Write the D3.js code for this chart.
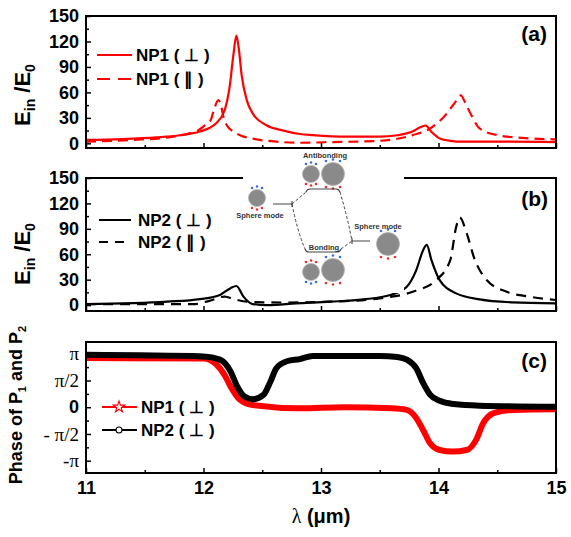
<!DOCTYPE html>
<html>
<head>
<meta charset="utf-8">
<script src="https://cdn.jsdelivr.net/npm/d3@7"></script>
<style>
  html, body { margin: 0; padding: 0; background: #fff; }
  svg { display: block; }
</style>
</head>
<body>
<svg id="chart" width="571" height="537"></svg>
<script>
// ---------------- DATA ----------------
// Panel (a): field enhancement of NP1, [lambda (um), Ein/E0]
const np1Perp = [[11.0,4],[11.3,5],[11.6,7],[11.8,9.5],[11.97,14],[12.05,18],[12.11,24],[12.18,39],[12.226,70],[12.255,105],[12.28,127],[12.30,112],[12.325,80],[12.37,50],[12.42,35],[12.54,21],[12.68,15],[12.82,11],[12.93,9.7],[13.22,7.8],[13.5,7.8],[13.65,9.5],[13.73,11.7],[13.8,15.5],[13.84,18.7],[13.89,21],[13.94,13.5],[14.01,5.8],[14.1,3],[14.21,2],[14.5,2],[15.0,1.5]];
const np1Par = [[11.0,2],[11.4,4],[11.7,7],[11.86,11],[11.95,15],[12.02,22],[12.06,27],[12.09,40],[12.126,51],[12.15,44],[12.17,31],[12.2,21],[12.25,14],[12.32,9],[12.4,6],[12.62,2],[12.82,0.7],[13.1,1.5],[13.5,3],[13.78,9.7],[13.93,17.5],[14.07,35],[14.14,48],[14.19,56.5],[14.23,47],[14.28,33],[14.35,17.5],[14.5,9.7],[14.78,5.8],[15.0,4.7]];
// Panel (b): field enhancement of NP2
const np2Perp = [[11.0,1],[11.69,4],[11.97,7],[12.14,12],[12.23,20],[12.28,22.5],[12.34,10],[12.42,1.2],[12.54,0],[12.79,2],[13.08,4],[13.36,6.7],[13.59,11.8],[13.73,21.6],[13.81,41],[13.87,65],[13.9,71],[13.94,53],[14.01,29.5],[14.15,13.8],[14.35,6.7],[14.63,3.2],[15.0,2]];
const np2Par = [[11.0,1],[11.5,1],[11.91,1],[12.05,5],[12.18,10],[12.26,7],[12.37,4],[12.68,3],[13.08,4],[13.5,8],[13.78,15.7],[13.98,29.5],[14.1,53],[14.15,92],[14.18,103.5],[14.24,85],[14.3,57],[14.41,29.5],[14.58,15.7],[14.78,9.8],[14.95,6.7],[15.0,6]];
// Panel (c): phase (in units of pi)
const np1Phase = [[11.0,0.92],[12.0,0.91],[12.11,0.8],[12.18,0.6],[12.23,0.39],[12.31,0.14],[12.42,0.04],[12.82,-0.02],[13.2,0.0],[13.6,-0.02],[13.73,-0.05],[13.81,-0.2],[13.87,-0.43],[13.93,-0.68],[14.01,-0.8],[14.12,-0.83],[14.24,-0.8],[14.32,-0.61],[14.38,-0.3],[14.47,-0.11],[14.64,-0.05],[15.0,-0.04]];
const np2Phase = [[11.0,0.98],[12.0,0.95],[12.14,0.89],[12.23,0.67],[12.28,0.42],[12.35,0.2],[12.42,0.15],[12.51,0.23],[12.57,0.48],[12.62,0.73],[12.71,0.86],[12.82,0.9],[12.93,0.96],[13.5,0.96],[13.65,0.94],[13.73,0.89],[13.81,0.73],[13.87,0.45],[13.93,0.23],[14.01,0.12],[14.13,0.06],[14.35,0.03],[15.0,0.01]];

// Tick values / labels
const xMajor = [11,12,13,14,15];
const xMinor = [11.5,12.5,13.5,14.5];
const eMajor = [0,30,60,90,120,150];
const eMinor = [15,45,75,105,135];
const phMajor = [-1,-0.5,0,0.5,1];
const phMinor = [-0.75,-0.25,0.25,0.75];
const phLabels = {"-1":"-π","-0.5":"- π/2","0":"0","0.5":"π/2","1":"π"};
const legendA = ["NP1 ( ⊥ )","NP1 ( ∥ )"];
const legendB = ["NP2 ( ⊥ )","NP2 ( ∥ )"];
const legendC = ["NP1 ( ⊥ )","NP2 ( ⊥ )"];

// ---------------- LAYOUT ----------------
const SANS = "Arial, 'Liberation Sans', Helvetica, sans-serif";
const SERIF = "'Times New Roman', 'Liberation Serif', serif";
const svg = d3.select("#chart");
const left = 86, right = 556;
const x = d3.scaleLinear().domain([11,15]).range([left,right]);
const panels = [
  {id:"a", top:16, bottom:148, y:d3.scaleLinear().domain([-5.5,150]).range([148,16])},
  {id:"b", top:178, bottom:311, y:d3.scaleLinear().domain([-7,150]).range([311,178])},
  {id:"c", top:342, bottom:473, y:d3.scaleLinear().domain([-1.23,1.22]).range([473,342])}
];

const defs = svg.append("defs");
panels.forEach(p => {
  defs.append("clipPath").attr("id","clip-"+p.id)
    .append("rect").attr("x",left).attr("y",p.top).attr("width",right-left).attr("height",p.bottom-p.top);
});

function drawAxes(p, showXLabels, yTicksMajor, yTicksMinor, yFmt) {
  const g = svg.append("g");
  const xa = g.append("g").attr("transform",`translate(0,${p.bottom})`)
    .call(d3.axisBottom(x).tickValues(xMajor).tickSizeInner(-5).tickSizeOuter(0).tickPadding(8)
      .tickFormat(showXLabels ? d3.format("d") : () => ""));
  const xm = g.append("g").attr("transform",`translate(0,${p.bottom})`)
    .call(d3.axisBottom(x).tickValues(xMinor).tickSizeInner(-3).tickSizeOuter(0).tickFormat(() => ""));
  const ya = g.append("g").attr("transform",`translate(${left},0)`)
    .call(d3.axisLeft(p.y).tickValues(yTicksMajor).tickSizeInner(-5).tickSizeOuter(0).tickPadding(7).tickFormat(yFmt));
  const ym = g.append("g").attr("transform",`translate(${left},0)`)
    .call(d3.axisLeft(p.y).tickValues(yTicksMinor).tickSizeInner(-3).tickSizeOuter(0).tickFormat(() => ""));
  [xa,xm,ya,ym].forEach(a => {
    a.select(".domain").remove();
    a.selectAll(".tick line").attr("stroke","#000").attr("stroke-width",1.5);
  });
  xa.selectAll(".tick text").attr("font-family",SANS).attr("font-weight","bold").attr("font-size",18).attr("fill","#000");
  ya.selectAll(".tick text").attr("font-family",SANS).attr("font-weight","bold").attr("font-size",18).attr("fill","#000");
  return {xa, ya};
}

function frame(p) {
  svg.append("rect").attr("x",left).attr("y",p.top).attr("width",right-left).attr("height",p.bottom-p.top)
    .attr("fill","none").attr("stroke","#000").attr("stroke-width",2);
}

const lineGen = (y) => d3.line().x(d => x(d[0])).y(d => y(d[1])).curve(d3.curveMonotoneX);

// ---------------- PANEL (a) ----------------
{
  const p = panels[0];
  drawAxes(p, false, eMajor, eMinor, d3.format("d"));
  const g = svg.append("g").attr("clip-path","url(#clip-a)");
  g.append("path").datum(np1Par).attr("d",lineGen(p.y)).attr("fill","none").attr("stroke","#ff0000").attr("stroke-width",2.2).attr("stroke-dasharray","10,6");
  g.append("path").datum(np1Perp).attr("d",lineGen(p.y)).attr("fill","none").attr("stroke","#ff0000").attr("stroke-width",2.2);
  frame(p);
  const lg = svg.append("g");
  legendA.forEach((t,i) => {
    const yy = 55 + i*24;
    lg.append("line").attr("x1",97).attr("x2",132).attr("y1",yy).attr("y2",yy).attr("stroke","#ff0000").attr("stroke-width",2.2)
      .attr("stroke-dasharray", i===1 ? "13,8" : null);
    lg.append("text").attr("x",136).attr("y",yy).attr("dy","0.36em").text(t)
      .attr("font-family",SANS).attr("font-weight","bold").attr("font-size",17);
  });
  svg.append("text").attr("x",547).attr("y",33).attr("dy","0.36em").attr("text-anchor","end").text("(a)")
    .attr("font-family",SANS).attr("font-weight","bold").attr("font-size",21);
}

// ---------------- PANEL (b) ----------------
{
  const p = panels[1];
  drawAxes(p, false, eMajor, eMinor, d3.format("d"));
  const g = svg.append("g").attr("clip-path","url(#clip-b)");
  g.append("path").datum(np2Par).attr("d",lineGen(p.y)).attr("fill","none").attr("stroke","#000").attr("stroke-width",2.2).attr("stroke-dasharray","10,7");
  g.append("path").datum(np2Perp).attr("d",lineGen(p.y)).attr("fill","none").attr("stroke","#000").attr("stroke-width",2.2);
  frame(p);
  const lg = svg.append("g");
  legendB.forEach((t,i) => {
    const yy = 220 + i*22;
    lg.append("line").attr("x1",99).attr("x2",131).attr("y1",yy).attr("y2",yy).attr("stroke","#000").attr("stroke-width",2)
      .attr("stroke-dasharray", i===1 ? "9,7" : null);
    lg.append("text").attr("x",138).attr("y",yy).attr("dy","0.36em").text(t)
      .attr("font-family",SANS).attr("font-weight","bold").attr("font-size",17);
  });
  svg.append("text").attr("x",548).attr("y",198).attr("dy","0.36em").attr("text-anchor","end").text("(b)")
    .attr("font-family",SANS).attr("font-weight","bold").attr("font-size",21);

  // ----- inset: hybridization diagram -----
  const ins = svg.append("g");
  ins.append("rect").attr("x",243).attr("y",150).attr("width",161).attr("height",143).attr("fill","#fff");
  const BLUE = "#3c6ee0", RED = "#e8302c";
  function sphere(cx, cy, r, topCol, botCol) {
    ins.append("circle").attr("cx",cx).attr("cy",cy).attr("r",r).attr("fill","#8a8a8a").attr("stroke","#b5b5b5").attr("stroke-width",0.8);
    const dx = r < 10 ? 5 : 7;
    [-dx,0,dx].forEach((o,k) => {
      const dyT = (k===1 ? -r-3 : -r-1.5);
      const dyB = (k===1 ? r+3 : r+1.5);
      ins.append("circle").attr("cx",cx+o).attr("cy",cy+dyT).attr("r",1.3).attr("fill",topCol);
      ins.append("circle").attr("cx",cx+o).attr("cy",cy+dyB).attr("r",1.3).attr("fill",botCol);
    });
  }
  sphere(257,198,8.5,BLUE,RED);
  sphere(311,174,8.5,BLUE,RED);
  sphere(333,174,11.5,BLUE,RED);
  sphere(311,272,8.5,RED,BLUE);
  sphere(333,270,11.5,BLUE,RED);
  sphere(388,244,11.5,BLUE,RED);
  const solid = (d) => ins.append("path").attr("d",d).attr("fill","none").attr("stroke","#444").attr("stroke-width",1.1);
  const dashed = (d) => ins.append("path").attr("d",d).attr("fill","none").attr("stroke","#444").attr("stroke-width",1).attr("stroke-dasharray","3,2");
  solid("M273,204 L292,204 M292,201 L292,207");
  solid("M306,192 Q307,189 310,189 L336,189 Q339,189 340,192");
  solid("M305,249 Q306,252 309,252 L337,252 Q340,252 341,249");
  solid("M352,241 L370,241 M352,238 L352,244");
  dashed("M292,204 L306,192");
  dashed("M292,204 Q297,230 305,249");
  dashed("M340,192 Q347,215 352,241");
  dashed("M341,249 L352,241");
  const itxt = (tx,ty,t) => ins.append("text").attr("x",tx).attr("y",ty).attr("text-anchor","middle").text(t)
    .attr("font-family",SANS).attr("font-weight","bold").attr("font-size",7.5).attr("fill","#333");
  itxt(325,158,"Antibonding");
  itxt(260,218,"Sphere mode");
  itxt(378,229,"Sphere mode");
  itxt(324,250,"Bonding");
}

// ---------------- PANEL (c) ----------------
{
  const p = panels[2];
  const ax = drawAxes(p, true, phMajor, phMinor, d => phLabels[String(d)]);
  ax.ya.selectAll(".tick text").each(function(d) {
    if (d !== 0) d3.select(this).attr("font-family",SERIF).attr("font-weight","normal").attr("font-size",19);
  });
  const g = svg.append("g").attr("clip-path","url(#clip-c)");
  g.append("path").datum(np1Phase).attr("d",lineGen(p.y)).attr("fill","none").attr("stroke","#ff0000").attr("stroke-width",6);
  g.append("path").datum(np2Phase).attr("d",lineGen(p.y)).attr("fill","none").attr("stroke","#000").attr("stroke-width",6);
  frame(p);
  const lg = svg.append("g");
  const cols = ["#ff0000","#000"];
  legendC.forEach((t,i) => {
    const yy = 407 + i*23;
    lg.append("line").attr("x1",102).attr("x2",137).attr("y1",yy).attr("y2",yy).attr("stroke",cols[i]).attr("stroke-width",2);
    lg.append("path").attr("d", d3.symbol(i===0 ? d3.symbolStar : d3.symbolCircle).size(i===0 ? 40 : 28)())
      .attr("transform",`translate(119,${yy})`).attr("fill","#fff").attr("stroke",cols[i]).attr("stroke-width",1.1);
    lg.append("text").attr("x",141).attr("y",yy).attr("dy","0.36em").text(t)
      .attr("font-family",SANS).attr("font-weight","bold").attr("font-size",17);
  });
  svg.append("text").attr("x",547).attr("y",360).attr("dy","0.36em").attr("text-anchor","end").text("(c)")
    .attr("font-family",SANS).attr("font-weight","bold").attr("font-size",21);
}

// ---------------- AXIS TITLES ----------------
function eLabel(cy) {
  const t = svg.append("text").attr("transform",`translate(30,${cy}) rotate(-90)`).attr("text-anchor","middle")
    .attr("font-family",SANS).attr("font-weight","bold").attr("font-size",22);
  t.append("tspan").text("E");
  t.append("tspan").attr("font-size",14).attr("dy",5).text("in");
  t.append("tspan").attr("dy",-5).text(" /E");
  t.append("tspan").attr("font-size",14).attr("dy",5).text("0");
}
eLabel(95);
eLabel(254);
{
  const t = svg.append("text").attr("transform",`translate(22,405) rotate(-90)`).attr("text-anchor","middle")
    .attr("font-family",SANS).attr("font-weight","bold").attr("font-size",18);
  t.append("tspan").text("Phase of P");
  t.append("tspan").attr("font-size",11).attr("dy",4).text("1");
  t.append("tspan").attr("dy",-4).text(" and P");
  t.append("tspan").attr("font-size",11).attr("dy",4).text("2");
}
{
  const t = svg.append("text").attr("x",321).attr("y",523).attr("text-anchor","middle").attr("font-size",20);
  t.append("tspan").attr("font-family",SERIF).text("λ");
  t.append("tspan").attr("font-family",SANS).attr("font-weight","bold").text(" (μm)");
}
</script>
</body>
</html>
